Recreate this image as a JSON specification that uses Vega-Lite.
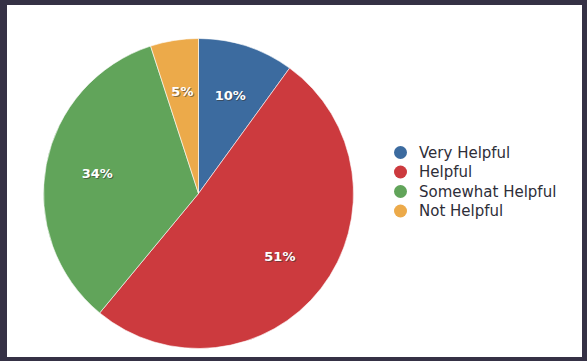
{
  "$schema": "https://vega.github.io/schema/vega-lite/v6.json",
  "autosize": {"type": "fit", "contains": "padding"},
  "width": 587,
  "height": 361,
  "background": "#353145",
  "padding": {"left": 7, "top": 5, "right": 5, "bottom": 4},
  "view": {"fill": "#ffffff", "stroke": null},
  "data": {
    "values": [
      {"response": "Very Helpful", "pct": 10, "order": 1},
      {"response": "Helpful", "pct": 51, "order": 2},
      {"response": "Somewhat Helpful", "pct": 34, "order": 3},
      {"response": "Not Helpful", "pct": 5, "order": 4}
    ]
  },
  "encoding": {
    "theta": {"field": "pct", "type": "quantitative", "stack": true},
    "order": {"field": "order", "type": "quantitative"}
  },
  "layer": [
    {
      "mark": {"type": "arc", "outerRadius": 155, "x": 191.5, "y": 188.5, "stroke": "#ffffff", "strokeWidth": 0.6},
      "encoding": {
        "color": {
          "field": "response",
          "type": "nominal",
          "scale": {
            "domain": ["Very Helpful", "Helpful", "Somewhat Helpful", "Not Helpful"],
            "range": ["#3c6b9f", "#cc3a3e", "#61a45a", "#ecaa4a"]
          },
          "legend": {
            "title": null,
            "orient": "none",
            "legendX": 386,
            "legendY": 140,
            "symbolType": "circle",
            "symbolSize": 169,
            "symbolStrokeWidth": 0,
            "labelFont": "DejaVu Sans",
            "labelFontSize": 15,
            "labelColor": "#2e2e38",
            "labelOffset": 11,
            "rowPadding": 3.5,
            "padding": 0
          }
        }
      }
    },
    {
      "mark": {"type": "text", "radius": 103, "x": 191.5, "y": 188.5, "dx": 1, "dy": 1, "font": "DejaVu Sans", "fontWeight": "bold", "fontSize": 13, "color": "#333333", "opacity": 0.55},
      "encoding": {"text": {"field": "label", "type": "nominal"}},
      "transform": [{"calculate": "datum.pct + '%'", "as": "label"}]
    },
    {
      "mark": {"type": "text", "radius": 103, "x": 191.5, "y": 188.5, "font": "DejaVu Sans", "fontWeight": "bold", "fontSize": 13, "color": "#ffffff"},
      "encoding": {"text": {"field": "label", "type": "nominal"}},
      "transform": [{"calculate": "datum.pct + '%'", "as": "label"}]
    }
  ]
}
